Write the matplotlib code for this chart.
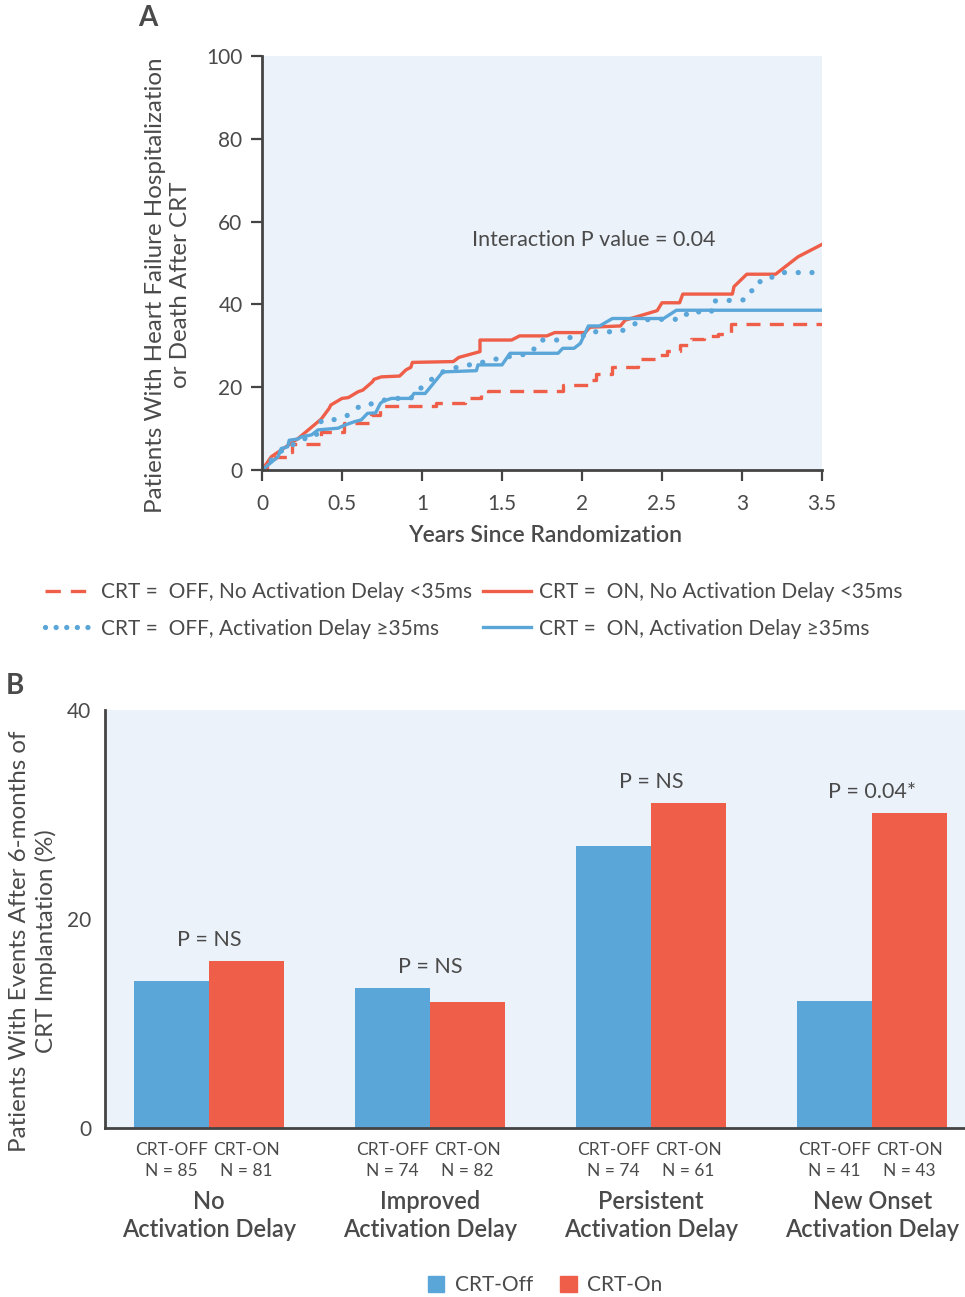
import numpy as np
import matplotlib.pyplot as plt
from matplotlib.lines import Line2D
from matplotlib.patches import Patch

plt.rcParams['font.family'] = ['Lato', 'DejaVu Sans']

RED = '#ef5e48'
BLUE = '#5ba6d9'
BG = '#ebf2fa'
TXT = '#4a4a4a'
AX = '#444444'

# ---- Panel A: cumulative event curves (years, %) ----
on_no_t = [0, 0.058, 0.225, 0.37, 0.42, 0.43, 0.50, 0.54, 0.60, 0.63, 0.69, 0.70, 0.745, 0.86, 0.90,
           0.93, 0.94, 1.196, 1.23, 1.3625, 1.3625, 1.56, 1.61, 1.78, 1.83, 2.02, 2.05, 2.24, 2.27,
           2.47, 2.50, 2.61, 2.63, 2.94, 2.95, 3.03, 3.21, 3.35, 3.5]
on_no_y = [0, 3.2, 7.6, 12.3, 14.9, 15.7, 17.3, 17.5, 18.9, 19.3, 21.3, 21.9, 22.5, 22.7, 24.2,
           24.8, 26.0, 26.2, 27.2, 28.6, 31.4, 31.4, 32.4, 32.4, 33.2, 33.2, 34.5, 34.8, 36.2,
           38.5, 40.4, 40.4, 42.5, 42.5, 44.3, 47.3, 47.3, 51.5, 54.5]

off_no_t = [0, 0.03, 0.08, 0.16, 0.185, 0.37, 0.51, 0.68, 0.74, 1.09, 1.27, 1.37, 1.41, 1.88, 2.05,
            2.09, 2.19, 2.35, 2.47, 2.53, 2.61, 2.68, 2.76, 2.85, 2.93, 3.5]
off_no_y = [0, 1.6, 3.2, 4.4, 6.2, 9.3, 11.4, 13.3, 15.5, 16.3, 17.3, 18.5, 19.1, 20.5, 21.7,
            23.3, 25.0, 26.7, 27.8, 28.7, 30.2, 31.6, 32.4, 32.8, 35.3, 35.3]

on_delay_t = [0, 0.0375, 0.1, 0.12, 0.16, 0.17, 0.225, 0.245, 0.31, 0.35, 0.475, 0.52, 0.58, 0.62,
              0.66, 0.71, 0.74, 0.76, 0.81, 0.93, 0.95, 1.02, 1.13, 1.34, 1.35, 1.50, 1.55, 1.85,
              1.88, 1.95, 1.99, 2.04, 2.11, 2.19, 2.51, 2.59, 3.5]
on_delay_y = [0, 1.2, 3.2, 5.2, 5.6, 7.2, 7.5, 8.0, 8.5, 9.7, 10.1, 10.9, 11.7, 12.1,
              13.7, 13.8, 16.1, 16.7, 17.3, 17.3, 18.5, 18.5, 23.7, 24.0, 25.4, 25.4, 28.2, 28.2,
              29.4, 29.4, 30.6, 34.8, 34.8, 36.6, 36.6, 38.6, 38.6]

off_delay_t = [0, 0.017, 0.1, 0.13, 0.17, 0.235, 0.28, 0.33, 0.36, 0.37, 0.44, 0.49, 0.54, 0.58,
               0.62, 0.675, 0.73, 0.80, 0.93, 0.96, 1.0, 1.04, 1.075, 1.12, 1.16, 1.22, 1.275,
               1.34, 1.39, 1.45, 1.50, 1.57, 1.62, 1.69, 1.71, 1.74, 1.81, 1.88, 1.94, 2.0, 2.04,
               2.24, 2.29, 2.33, 2.37, 2.44, 2.58, 2.64, 2.66, 2.81, 2.81, 3.01, 3.03, 3.08, 3.10,
               3.16, 3.20, 3.26, 3.47]
off_delay_y = [0, 1.2, 3.6, 5.0, 6.0, 6.4, 8.0, 8.0, 9.7, 11.9, 12.1, 12.5, 13.3, 14.5,
               15.7, 15.9, 16.5, 17.3, 17.3, 18.8, 20.0, 21.1, 22.5, 23.5, 24.3, 24.8, 25.4,
               25.4, 26.2, 26.6, 27.4, 27.4, 27.8, 28.3, 30.2, 31.4, 31.4, 31.4, 32.2, 32.2, 33.4,
               33.4, 34.5, 35.3, 36.2, 36.4, 36.4, 36.6, 38.2, 38.2, 40.8, 41.1, 42.8, 43.6, 45.5,
               45.5, 47.1, 47.7, 47.7]

# ---- Panel B: bars ----
groups = ['No\nActivation Delay', 'Improved\nActivation Delay',
          'Persistent\nActivation Delay', 'New Onset\nActivation Delay']
crt_off = [14.1, 13.4, 27.0, 12.2]
crt_on = [16.0, 12.1, 31.1, 30.1]
n_off = [85, 74, 74, 41]
n_on = [81, 82, 61, 43]
p_labels = ['P = NS', 'P = NS', 'P = NS', 'P = 0.04*']

fig = plt.figure(figsize=(9.65, 12.97), dpi=100)

# Panel A
axA = fig.add_axes([0.2715, 0.6376, 0.5803, 0.3192])
axA.set_facecolor(BG)
axA.plot(off_no_t, off_no_y, color=RED, lw=2.4, ls=(0, (4.2, 2.8)), drawstyle='steps-post')
axA.plot(on_no_t, on_no_y, color=RED, lw=2.4)
axA.plot(off_delay_t, off_delay_y, color=BLUE, lw=3.8, ls=(0, (0.01, 2.6)),
         dash_capstyle='round', solid_capstyle='round')
axA.plot(on_delay_t, on_delay_y, color=BLUE, lw=2.4)
axA.set_xlim(0, 3.5)
axA.set_ylim(0, 100)
axA.set_xticks([0, 0.5, 1, 1.5, 2, 2.5, 3, 3.5])
axA.set_xticklabels(['0', '0.5', '1', '1.5', '2', '2.5', '3', '3.5'])
axA.set_yticks([0, 20, 40, 60, 80, 100])
for s in ['top', 'right']:
    axA.spines[s].set_visible(False)
for s in ['left', 'bottom']:
    axA.spines[s].set_color(AX)
    axA.spines[s].set_linewidth(2)
axA.tick_params(colors=AX, labelcolor=TXT, labelsize=15, length=8, width=1.6, pad=6)
axA.tick_params(axis='x', pad=9)
axA.text(2.075, 55.6, 'Interaction P value = 0.04', ha='center', va='center',
         fontsize=15.5, color=TXT)

fig.text(168 / 965, 1 - 285 / 1297,
         'Patients With Heart Failure Hospitalization\nor Death After CRT',
         rotation=90, ha='center', va='center', multialignment='center',
         fontsize=17.4, color=TXT, linespacing=1.2)
fig.text(545 / 965, 1 - 536 / 1297, 'Years Since Randomization', ha='center', va='center',
         fontsize=16.5, color=TXT, fontweight='semibold')
fig.text(148 / 965, 1 - 18 / 1297, 'A', ha='center', va='center', fontsize=20,
         fontweight='bold', color=TXT)

handles = [
    Line2D([], [], color=RED, lw=2.4, ls=(0, (4.6, 3.0))),
    Line2D([], [], color=BLUE, lw=3.8, ls=(0, (0.01, 2.0)), dash_capstyle='round'),
    Line2D([], [], color=RED, lw=2.4),
    Line2D([], [], color=BLUE, lw=2.4),
]
labels = ['CRT =  OFF, No Activation Delay <35ms', 'CRT =  OFF, Activation Delay \u226535ms',
          'CRT =  ON, No Activation Delay <35ms', 'CRT =  ON, Activation Delay \u226535ms']
legA = fig.legend(handles, labels, loc='upper left', bbox_to_anchor=(45 / 965, 1 - 582 / 1297),
                  ncol=2, frameon=False, fontsize=15, handlelength=2.3, handletextpad=0.4,
                  columnspacing=0.5, labelspacing=0.8, borderpad=0, borderaxespad=0)
for t in legA.get_texts():
    t.set_color(TXT)

# Panel B
axB = fig.add_axes([0.1088, 0.1303, 0.8912, 0.3223])
axB.set_facecolor(BG)
x = np.arange(len(groups))
w = 0.34
axB.bar(x - w / 2, crt_off, width=w, color=BLUE)
axB.bar(x + w / 2, crt_on, width=w, color=RED)
axB.set_xlim(-0.47, 3.42)
axB.set_ylim(0, 40)
axB.set_yticks([0, 20, 40])
axB.set_xticks([])
for s in ['top', 'right']:
    axB.spines[s].set_visible(False)
for s in ['left', 'bottom']:
    axB.spines[s].set_color(AX)
    axB.spines[s].set_linewidth(2)
axB.tick_params(axis='y', colors=AX, labelcolor=TXT, labelsize=15, length=0, pad=10)

for i in range(len(groups)):
    top = max(crt_off[i], crt_on[i])
    axB.annotate(p_labels[i], (x[i], top), xytext=(0, 8), textcoords='offset points',
                 ha='center', va='bottom', fontsize=15.5, color=TXT)

tr = axB.get_xaxis_transform()
for i in range(len(groups)):
    axB.text(x[i] - w / 2, -0.053, 'CRT-OFF', transform=tr, ha='center', va='center',
             fontsize=12.5, color=TXT)
    axB.text(x[i] + w / 2, -0.053, 'CRT-ON', transform=tr, ha='center', va='center',
             fontsize=12.5, color=TXT)
    axB.text(x[i] - w / 2, -0.103, 'N = %d' % n_off[i], transform=tr, ha='center',
             va='center', fontsize=12.5, color=TXT)
    axB.text(x[i] + w / 2, -0.103, 'N = %d' % n_on[i], transform=tr, ha='center',
             va='center', fontsize=12.5, color=TXT)
    axB.text(x[i], -0.209, groups[i], transform=tr, ha='center', va='center',
             fontsize=17, color=TXT, fontweight='semibold', linespacing=1.3,
             multialignment='center')

fig.text(33 / 965, 1 - 941 / 1297,
         'Patients With Events After 6-months of\nCRT Implantation (%)',
         rotation=90, ha='center', va='center', multialignment='center',
         fontsize=17.4, color=TXT, linespacing=1.25)
fig.text(15 / 965, 1 - 686 / 1297, 'B', ha='center', va='center', fontsize=20,
         fontweight='bold', color=TXT)

legB = fig.legend([Patch(color=BLUE), Patch(color=RED)], ['CRT-Off', 'CRT-On'],
                  loc='center', bbox_to_anchor=(545 / 965, 1 - 1285 / 1297), ncol=2,
                  frameon=False, fontsize=15, handlelength=0.8, handleheight=0.8,
                  handletextpad=0.5, columnspacing=1.3, borderpad=0)
for t in legB.get_texts():
    t.set_color(TXT)

fig.savefig('out.png', dpi=100, facecolor='white')
